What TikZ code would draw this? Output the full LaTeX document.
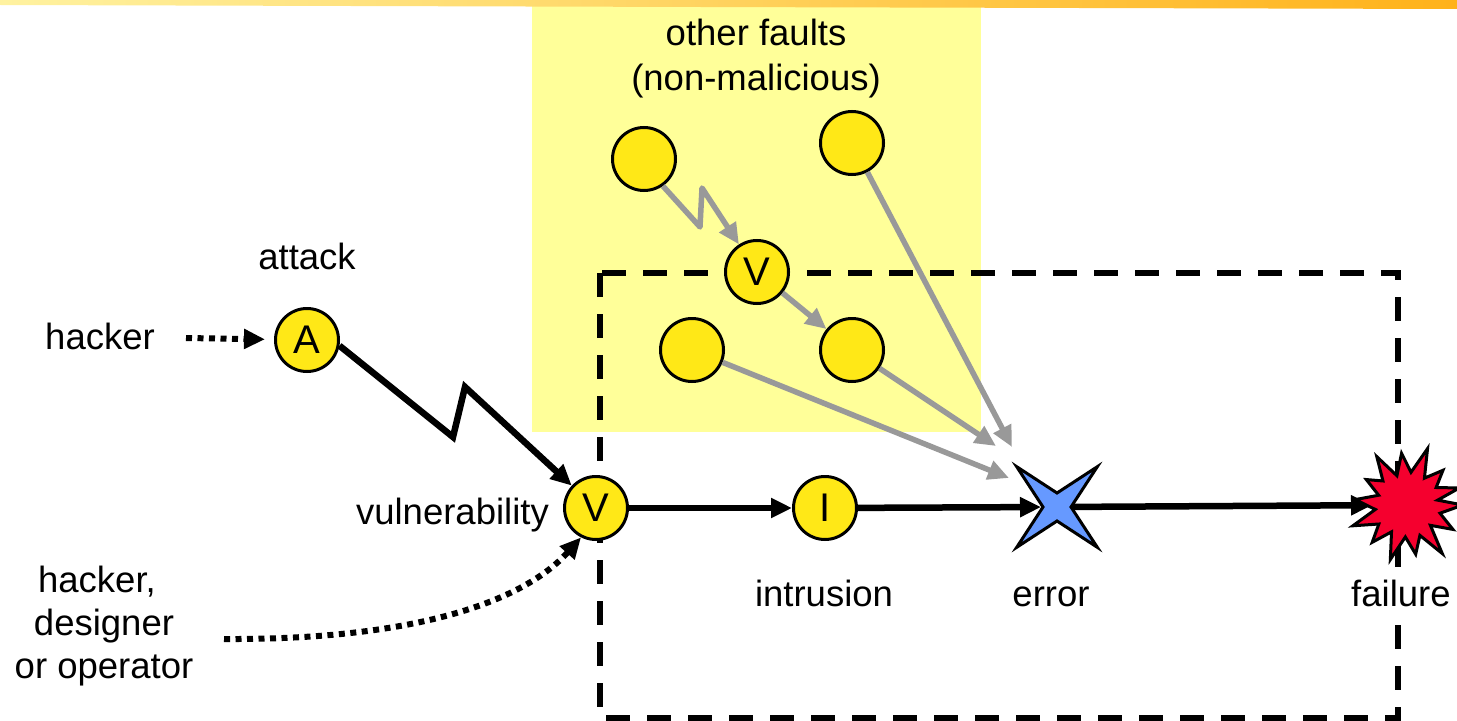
\documentclass[tikz,border=0pt]{standalone}
\usepackage{fontspec}
\setmainfont{Liberation Sans}
\usetikzlibrary{arrows.meta,shapes.geometric}
\definecolor{bgyellow}{HTML}{FFFF99}
\definecolor{circyellow}{HTML}{FFE817}
\definecolor{errblue}{HTML}{6699FF}
\definecolor{failred}{HTML}{F5002E}
\definecolor{grayarrow}{HTML}{999999}
\definecolor{stripL}{HTML}{FFF2A0}
\definecolor{stripR}{HTML}{FFB21A}
\begin{document}
\begin{tikzpicture}[x=1bp,y=-1bp,
  font=\fontsize{36.5bp}{43bp}\selectfont,
  circ/.style={circle, draw=black, line width=3bp, fill=circyellow, minimum size=63bp, inner sep=0pt, font=\fontsize{40bp}{48bp}\selectfont},
  lbl/.style={anchor=base, inner sep=0pt},
  blackarr/.style={line width=6.5bp, -{Triangle[length=21bp,width=19bp]}},
  grayarr/.style={draw=grayarrow, line width=5.5bp, -{Triangle[length=21bp,width=19bp]}},
  dotarr/.style={line width=6bp, dash pattern=on 6bp off 5.5bp, -{Triangle[length=21bp,width=19bp]}},
  dashbox/.style={line width=6.5bp, dash pattern=on 24bp off 17bp},
  shapeline/.style={draw=black, line width=3bp, line join=miter}
]
\useasboundingbox (0,0) rectangle (1457,721);
% background panel
\fill[bgyellow] (532,0) rectangle (981,432);
\shade[left color=stripL, right color=stripR] (0,0) -- (1457,0) -- (1457,9) -- (700,7) -- (0,5) -- cycle;
% dashed system boundary
\draw[dashbox] (600,273) rectangle (1398,718);

% nodes
\node[circ] (A) at (307,340) {A};
\node[circ] (V) at (596,508) {V};
\node[circ] (I) at (825,508) {I};
\node[circ] (f1) at (644,159) {};
\node[circ] (f2) at (852,143) {};
\node[circ] (fV) at (757,272) {V};
\node[circ] (f3) at (692,350) {};
\node[circ] (f4) at (852,350) {};

% labels
\node[lbl] (tattack) at (307,269) {attack};
\node[lbl] (thacker) at (100,349) {hacker};
\node[lbl, anchor=base east] (tvuln) at (549,524) {vulnerability};
\node[lbl] (th1) at (97,592) {hacker,};
\node[lbl] (th2) at (104,635) {designer};
\node[lbl] (th3) at (104,678) {or operator};
\node[lbl] (tintr) at (824,606) {intrusion};
\node[lbl] (terr) at (1051,606) {error};
\node[anchor=base west, fill=white, inner xsep=0pt, inner ysep=8bp] (tfail) at (1351,606) {failure};
\node[lbl] (tother) at (756,46) {other faults};
\node[lbl] (tnonmal) at (756,91) {(non-malicious)};

% coordinates
\coordinate (err) at (1057,507);
\coordinate (fail) at (1407,505);
\coordinate (hk) at (186,338);
\coordinate (hd) at (224,639);
\coordinate (k1) at (453,437);
\coordinate (k2) at (465,387);
\coordinate (g1) at (700,227);
\coordinate (g2) at (702,188);
\coordinate (e1) at (1012,447);
\coordinate (e2) at (996,446);
\coordinate (e3) at (1009,478);

% black connectors
\draw[dotarr, shorten >=9bp] (hk) -- (A);
\draw[blackarr, line join=miter] (A.-10) -- (k1) -- (k2) -- (V);
\draw[dotarr] (hd) .. controls (420,640) and (525,600) .. (V.243);
\draw[blackarr] (V) -- (I);
\draw[blackarr, shorten >=16bp] (I) -- (err);
\draw[blackarr, shorten >=35bp] (err) -- (fail);

% gray connectors
\draw[grayarr, line join=round] (f1.-55) -- (g1) -- (g2) -- (fV);
\draw[grayarr] (fV) -- (f4);
\draw[grayarr] (f2) -- (e1);
\draw[grayarr] (f4) -- (e2);
\draw[grayarr] (f3) -- (e3);

% error star
\begin{scope}[shift={(err)}]
\draw[shapeline, fill=errblue] (45:57) -- (0:14) -- (-45:57) -- (-90:14) -- (-135:57) -- (180:14) -- (135:57) -- (90:14) -- cycle;
\end{scope}

% failure explosion
\begin{scope}[shift={(fail)}]
\draw[shapeline, fill=failred]
 (0:56) -- (14:34) -- (28:52) -- (41:31) -- (54:60) -- (67:33) -- (80:50)
 -- (93:32) -- (107:57) -- (120:31) -- (133:51) -- (146:34) -- (159:58)
 -- (172:32) -- (186:52) -- (199:30) -- (212:48) -- (225:34) -- (238:57)
 -- (251:31) -- (264:52) -- (277:33) -- (290:60) -- (303:32) -- (316:50)
 -- (329:34) -- (342:55) -- (351:31) -- cycle;
\end{scope}
\end{tikzpicture}
\end{document}
